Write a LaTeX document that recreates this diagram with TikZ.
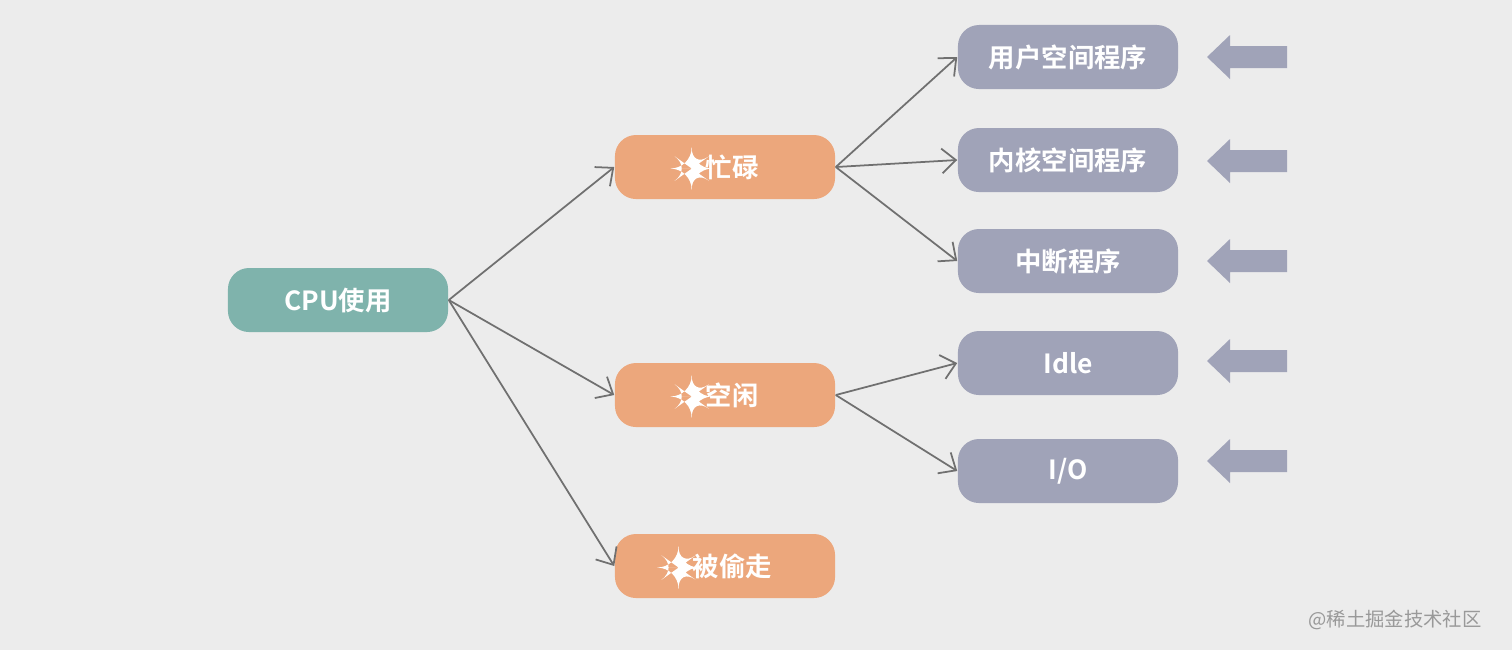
\documentclass[tikz,border=0pt]{standalone}
\usepackage{fontspec}
\setmainfont{Noto Sans CJK SC}[BoldFont={Noto Sans CJK SC Bold}]
\usetikzlibrary{arrows.meta}
\definecolor{bg}{HTML}{ECECEC}
\definecolor{teal}{HTML}{7FB3AC}
\definecolor{org}{HTML}{ECA77C}
\definecolor{gry}{HTML}{A0A3B8}
\definecolor{ln}{HTML}{707070}
\tikzset{
 box/.style={rounded corners=6pt, minimum width=2.2cm, minimum height=0.64cm, inner sep=0pt, text=white, font=\bfseries\fontsize{7.5}{8}\selectfont},
 tbox/.style={box, fill=teal},
 obox/.style={box, fill=org},
 gbox/.style={box, fill=gry},
 edge/.style={draw=ln, line width=0.5pt, -{Straight Barb[length=4pt,width=7pt]}},
 bigarrow/.style={fill=gry, draw=none},
}
\newcommand{\rarr}{\tikz[baseline=-0.6ex]\fill[white] (0,-0.05)--(0.28,-0.05)--(0.28,-0.1)--(0.42,0)--(0.28,0.1)--(0.28,0.05)--(0,0.05)--cycle;}
\begin{document}
\begin{tikzpicture}[x=0.01cm,y=-0.01cm]
\fill[bg] (0,0) rectangle (1512,650);
\useasboundingbox (0,0) rectangle (1512,650);
\node[tbox] (cpu) at (338,300) {CPU使用};
\node[obox] (busy) at (725,167) {\rarr\hspace{4pt}忙碌};
\node[obox] (idle) at (725,395) {\rarr\hspace{4pt}空闲};
\node[obox] (steal) at (725,566) {\rarr\hspace{4pt}被偷走};
\node[gbox] (u) at (1068,57) {用户空间程序};
\node[gbox] (k) at (1068,160) {内核空间程序};
\node[gbox] (i) at (1068,261) {中断程序};
\node[gbox] (id) at (1068,363) {Idle};
\node[gbox] (io) at (1068,471) {I/O};
\draw[edge] (cpu.east) -- (busy.west);
\draw[edge] (cpu.east) -- (idle.west);
\draw[edge] (cpu.east) -- (steal.west);
\draw[edge] (busy.east) -- (u.west);
\draw[edge] (busy.east) -- (k.west);
\draw[edge] (busy.east) -- (i.west);
\draw[edge] (idle.east) -- (id.west);
\draw[edge] (idle.east) -- (io.west);
\foreach \yy in {57,161,261,361,461}{
 \fill[gry] (1287,\yy-11) -- (1230,\yy-11) -- (1230,\yy-22) -- (1207,\yy) -- (1230,\yy+22) -- (1230,\yy+11) -- (1287,\yy+11) -- cycle;
}
\node[text=gray!80, font=\fontsize{5.5}{6}\selectfont, anchor=east] (wm) at (1494,620) {@稀土掘金技术社区};
\end{tikzpicture}
\end{document}
